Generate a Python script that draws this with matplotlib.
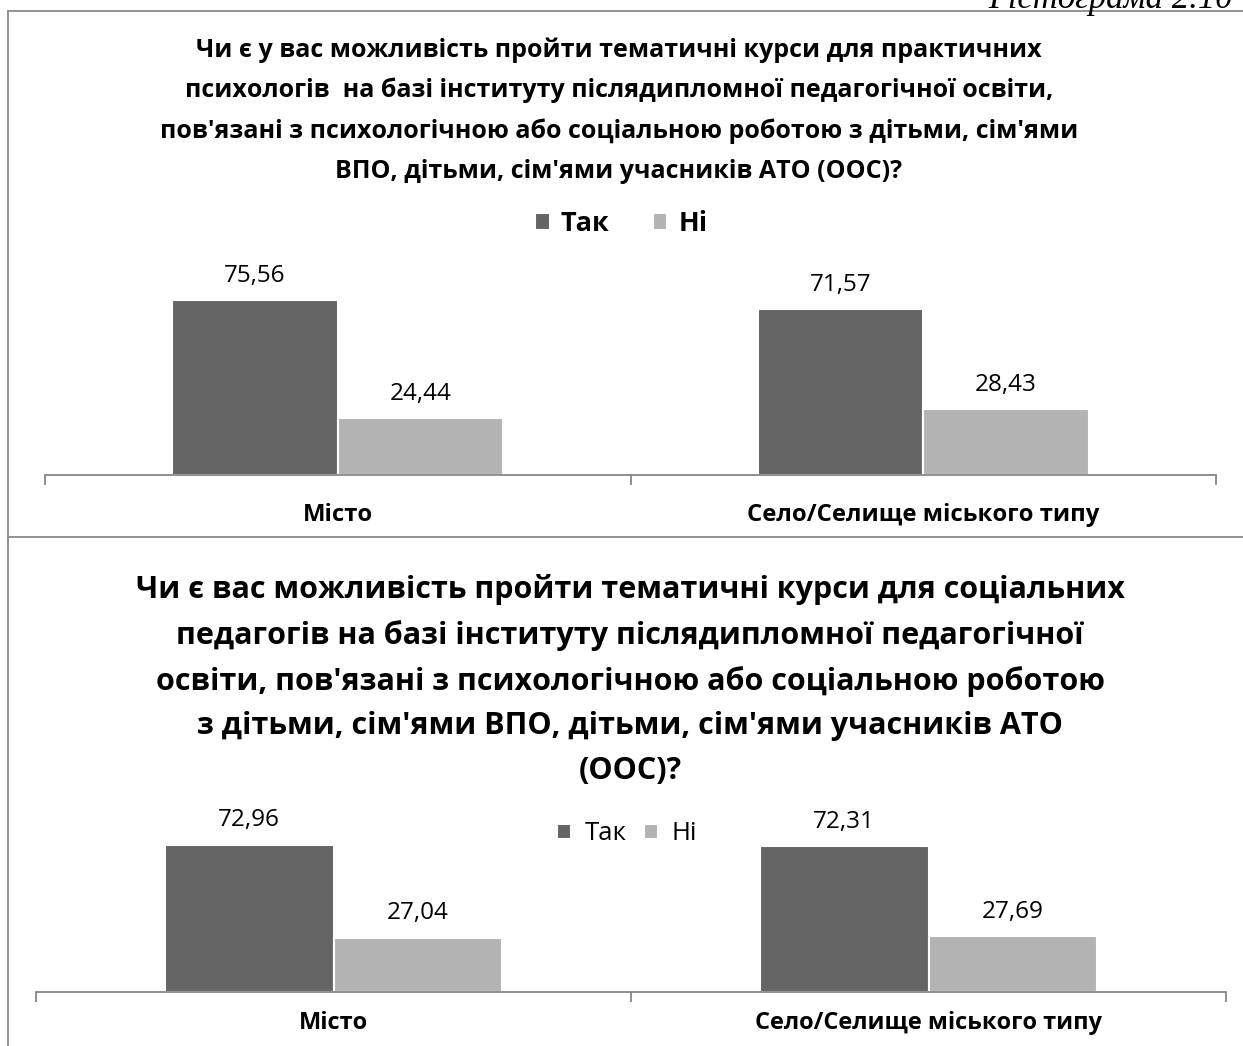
import matplotlib.pyplot as plt
from matplotlib.lines import Line2D

W, H = 1243, 1046
FONT = ['Open Sans', 'DejaVu Sans']

categories = ['Місто', 'Село/Селище міського типу']
series = ['Так', 'Ні']
top_tak = [75.56, 71.57]
top_ni = [24.44, 28.43]
bottom_tak = [72.96, 72.31]
bottom_ni = [27.04, 27.69]
colors = ['#646464', '#b3b3b3']

top_title = ("Чи є у вас можливість пройти тематичні курси для практичних\n"
             "психологів  на базі інституту післядипломної педагогічної освіти,\n"
             "пов'язані з психологічною або соціальною роботою з дітьми, сім'ями\n"
             "ВПО, дітьми, сім'ями учасників АТО (ООС)?")
bottom_title = ("Чи є вас можливість пройти тематичні курси для соціальних\n"
                "педагогів на базі інституту післядипломної педагогічної\n"
                "освіти, пов'язані з психологічною або соціальною роботою\n"
                "з дітьми, сім'ями ВПО, дітьми, сім'ями учасників АТО\n"
                "(ООС)?")
caption = 'Гістограма 2.10'

plt.rcParams['font.family'] = FONT

fig = plt.figure(figsize=(W / 100, H / 100), dpi=100)


def px_axes(left, top, right, bottom):
    return fig.add_axes([left / W, 1 - bottom / H, (right - left) / W, (bottom - top) / H])


def fx(x):
    return x / W


def fy(y):
    return 1 - y / H


def draw_chart(ax, tak, ni, label_size, cat_size, cat_pad):
    ymax = 90
    width = 0.283
    xs = range(len(categories))
    b1 = ax.bar([x - width / 2 for x in xs], tak, width, color=colors[0],
                edgecolor='white', linewidth=1.5, label=series[0])
    b2 = ax.bar([x + width / 2 for x in xs], ni, width, color=colors[1],
                edgecolor='white', linewidth=1.5, label=series[1])
    for bc in (b1, b2):
        ax.bar_label(bc, labels=[f'{v:.2f}'.replace('.', ',') for v in bc.datavalues],
                     padding=9, fontsize=label_size, color='#000000')
    ax.set_xlim(-0.5, 1.5)
    ax.set_ylim(0, ymax)
    for s in ('top', 'right', 'left'):
        ax.spines[s].set_visible(False)
    ax.spines['bottom'].set_color('#868686')
    ax.spines['bottom'].set_linewidth(1.3)
    ax.set_yticks([])
    ax.set_xticks(list(xs))
    ax.set_xticklabels(categories, fontsize=cat_size, fontweight='bold')
    ax.tick_params(axis='x', which='major', length=0, pad=cat_pad)
    ax.set_xticks([-0.5, 0.5, 1.5], minor=True)
    ax.tick_params(axis='x', which='minor', length=7.5, color='#868686', width=1.3)
    return b1, b2


# top chart: baseline at y=475, 2.316 px per unit
ax1 = px_axes(45, 475 - 90 * 2.316, 1216, 475)
h1 = draw_chart(ax1, top_tak, top_ni, 17.5, 17.2, 20)
fig.text(fx(619), fy(110.5), top_title, ha='center', va='center', fontsize=18,
         fontweight='bold', linespacing=1.78)
fig.legend(h1, series, loc='center', bbox_to_anchor=(fx(621), fy(224)), ncol=2,
           frameon=False, handlelength=0.55, handleheight=0.55, handletextpad=0.4,
           columnspacing=1.6, prop={'size': 19.5, 'weight': 'bold'})

# bottom chart: baseline at y=992, 2.015 px per unit
ax2 = px_axes(36, 992 - 90 * 2.015, 1226, 992)
h2 = draw_chart(ax2, bottom_tak, bottom_ni, 17.5, 17, 14)
fig.text(fx(630), fy(680), bottom_title, ha='center', va='center', fontsize=22,
         fontweight='bold', linespacing=1.62)
fig.legend(h2, series, loc='center', bbox_to_anchor=(fx(627), fy(834)), ncol=2,
           frameon=False, handlelength=0.55, handleheight=0.55, handletextpad=0.5,
           columnspacing=0.7, prop={'size': 18.5})

# frame lines around the charts
border = dict(color='#8a8a8a', linewidth=1.3)
fig.add_artist(Line2D([fx(8), 1], [fy(11), fy(11)], **border))
fig.add_artist(Line2D([fx(8), fx(8)], [fy(11), 0], **border))
fig.add_artist(Line2D([fx(8), 1], [fy(537), fy(537)], **border))

fig.text(fx(988), fy(8), caption, ha='left', va='baseline', fontsize=25,
         fontstyle='italic', family=['Liberation Serif', 'DejaVu Serif'])

fig.savefig('out.png', dpi=100)
